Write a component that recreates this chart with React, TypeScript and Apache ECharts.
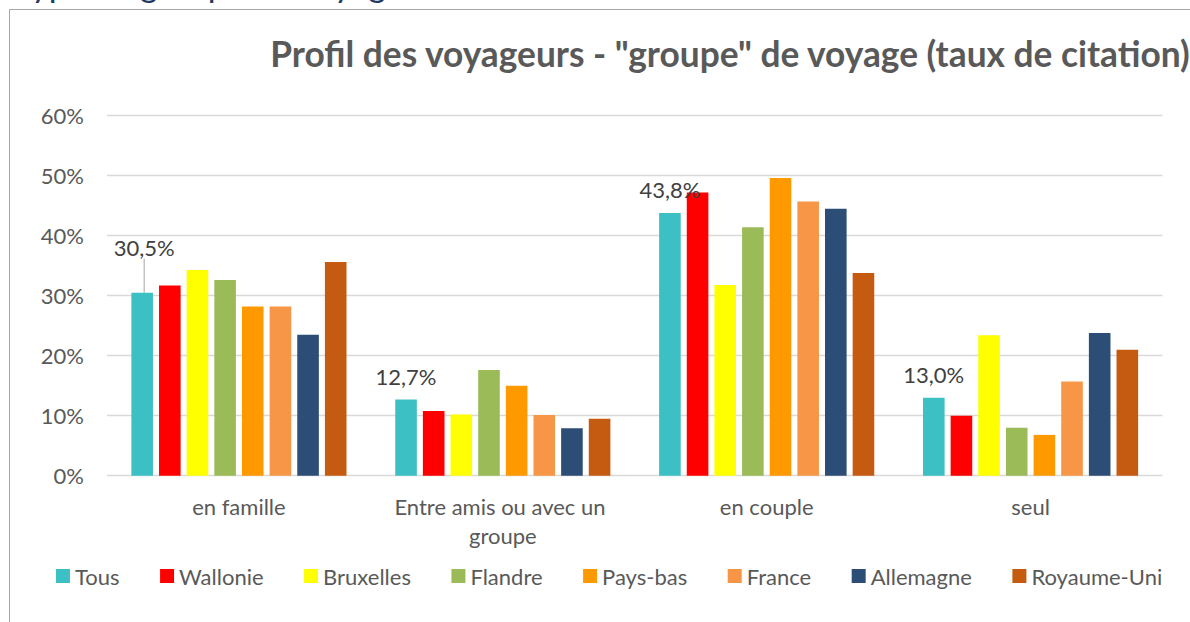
import React, { useEffect, useRef } from "react";
import * as echarts from "echarts";

const categories = ["en famille", "Entre amis ou avec un groupe", "en couple", "seul"];
const seriesNames = ["Tous", "Wallonie", "Bruxelles", "Flandre", "Pays-bas", "France", "Allemagne", "Royaume-Uni"];
const tous = [30.5, 12.7, 43.8, 13.0];
const wallonie = [31.7, 10.8, 47.2, 10.0];
const bruxelles = [34.3, 10.2, 31.8, 23.4];
const flandre = [32.6, 17.6, 41.4, 8.0];
const paysBas = [28.2, 15.0, 49.6, 6.8];
const france = [28.2, 10.1, 45.7, 15.7];
const allemagne = [23.5, 7.9, 44.5, 23.8];
const royaumeUni = [35.6, 9.5, 33.8, 21.0];
const yTicks = [0, 10, 20, 30, 40, 50, 60];
const colors = ["#3CC0C4", "#FF0000", "#FFFF00", "#9BBB59", "#FF9900", "#F79646", "#2C4D75", "#C55A11"];
const title = 'Profil des voyageurs - "groupe" de voyage (taux de citation)';
const heading = "Type de groupe de voyage";

const allValues = [tous, wallonie, bruxelles, flandre, paysBas, france, allemagne, royaumeUni];
const FONT = "Lato, 'Open Sans', sans-serif";
const fmt = (v: number) => v.toFixed(1).replace(".", ",") + "%";

export default function App() {
  const ref = useRef<HTMLDivElement>(null);
  useEffect(() => {
    if (!ref.current) return;
    const chart = echarts.init(ref.current, null, { renderer: "svg" });
    const series = seriesNames.map((name, si) => ({
      name,
      type: "bar",
      barWidth: 21.6,
      barGap: "28%",
      itemStyle: { color: colors[si] },
      label:
        si === 0
          ? {
              show: true,
              position: "top",
              distance: 12,
              formatter: (p: any) => fmt(p.value),
              fontFamily: FONT,
              fontSize: 22,
              color: "#404040",
            }
          : { show: false },
      labelLine: si === 0 ? { show: true, lineStyle: { color: "#A6A6A6", width: 1 } } : { show: false },
      labelLayout:
        si === 0
          ? (params: any) => (params.dataIndex === 0 ? { dx: 2, dy: -22 } : {})
          : undefined,
      data: allValues[si].map((v, i) =>
        si === 0 ? { value: v, labelLine: { show: i === 0 } } : v
      ),
    }));
    chart.setOption({
      animation: false,
      backgroundColor: "#FFFFFF",
      textStyle: { fontFamily: FONT },
      title: {
        text: title,
        left: 725,
        textAlign: "center",
        top: 28,
        textStyle: { fontFamily: FONT, fontSize: 35.3, fontWeight: "bold", color: "#595959", lineHeight: 40 },
      },
      graphic: [
        {
          type: "rect",
          shape: { x: 9.5, y: 9.5, width: 1400, height: 800 },
          style: { fill: "none", stroke: "#A6A6A6", lineWidth: 1 },
          silent: true,
          z: -1,
        },
        {
          type: "text",
          x: 14,
          y: -34,
          style: { text: heading, font: "34px " + FONT, fill: "#1F3864" },
          silent: true,
        },
      ],
      legend: {
        data: seriesNames,
        left: 51,
        top: 560,
        itemWidth: 14,
        itemHeight: 14,
        itemGap: 40.5,
        icon: "rect",
        textStyle: { fontFamily: FONT, fontSize: 22, color: "#595959" },
      },
      grid: { left: 107, right: 27.5, top: 115.7, bottom: 146.3, containLabel: false },
      xAxis: {
        type: "category",
        data: categories,
        axisLine: { show: false },
        axisTick: { show: false },
        axisLabel: {
          fontFamily: FONT,
          fontSize: 22,
          color: "#595959",
          lineHeight: 29,
          margin: 16,
          width: 240,
          overflow: "break",
          interval: 0,
        },
      },
      yAxis: {
        type: "value",
        min: yTicks[0],
        max: yTicks[yTicks.length - 1],
        interval: 10,
        axisLine: { show: false },
        axisTick: { show: false },
        splitLine: { lineStyle: { color: "#D9D9D9", width: 1.3 } },
        axisLabel: {
          formatter: (v: number) => v + "%",
          fontFamily: FONT,
          fontSize: 22,
          color: "#595959",
          margin: 23,
        },
      },
      series,
    });
    return () => chart.dispose();
  }, []);
  return (
    <div
      ref={ref}
      style={{ position: "absolute", left: 0, top: 0, width: 1190, height: 622, background: "#fff" }}
    />
  );
}
